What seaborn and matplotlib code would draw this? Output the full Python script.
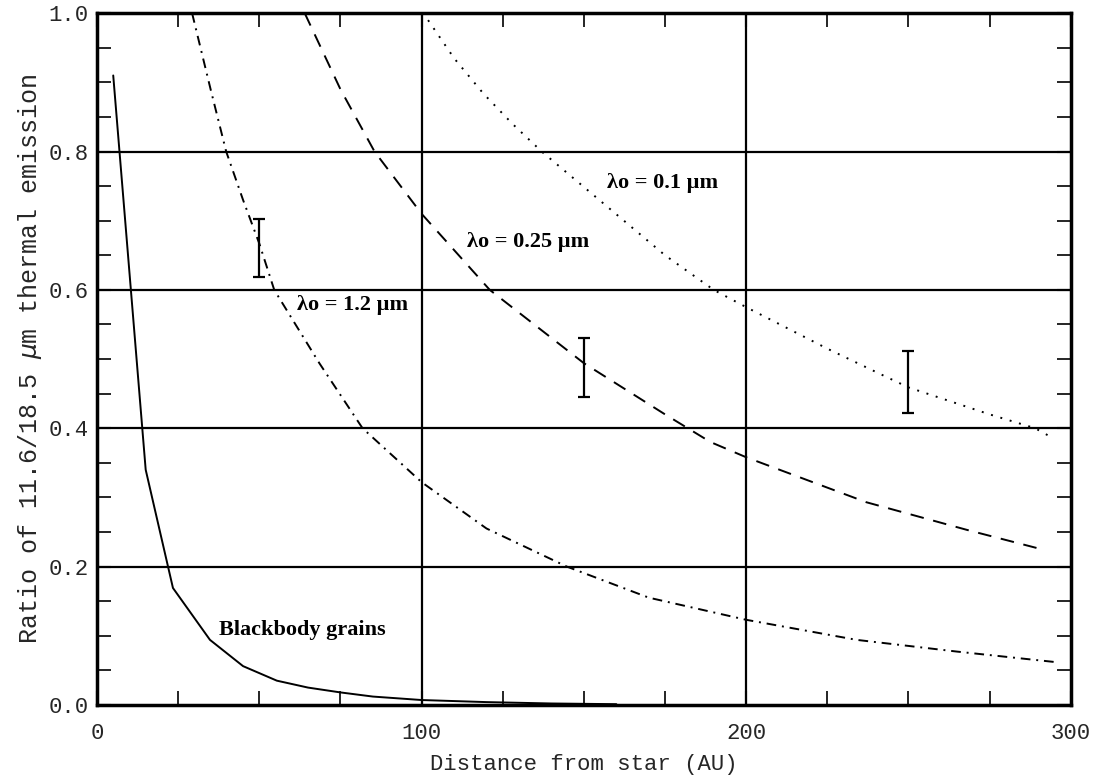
import numpy as np
import pandas as pd
import matplotlib
matplotlib.use("Agg")
import matplotlib.pyplot as plt
import seaborn as sns

# -------- data --------
# blackbody grains (solid)
bb_x = [5, 15, 23.4, 34.8, 45, 55.4, 65, 75, 85, 100, 120, 140, 160]
bb_y = [0.91, 0.34, 0.169, 0.094, 0.056, 0.035, 0.025, 0.018, 0.012, 0.007, 0.004, 0.002, 0.001]

# lambda_o = 1.2 um (dash-dot)
l12_x = [29.3, 35, 39.8, 45, 50, 54.6, 68.5, 81.8, 100, 120, 144.7, 170, 200, 234, 265, 295]
l12_y = [1.0, 0.89, 0.80, 0.73, 0.667, 0.60, 0.494, 0.40, 0.322, 0.255, 0.20, 0.155, 0.123, 0.094, 0.077, 0.062]

# lambda_o = 0.25 um (dashed)
l025_x = [64, 75, 85.5, 100, 121, 150, 175, 189, 200, 237, 268, 291]
l025_y = [1.0, 0.89, 0.80, 0.71, 0.60, 0.494, 0.42, 0.38, 0.358, 0.293, 0.253, 0.225]

# lambda_o = 0.1 um (dotted)
l01_x = [102, 110, 119, 128, 137, 155, 175, 190, 200, 225, 241, 250, 275, 289, 294]
l01_y = [0.99, 0.935, 0.884, 0.84, 0.80, 0.729, 0.65, 0.60, 0.575, 0.515, 0.479, 0.459, 0.42, 0.40, 0.387]

# measured ratios with error bars
obs_x = [50, 150, 250]
obs_y = [0.66, 0.488, 0.4665]
obs_err = [0.042, 0.043, 0.045]

x_ticks = [0, 100, 200, 300]
y_ticks = [0.0, 0.2, 0.4, 0.6, 0.8, 1.0]

# -------- style --------
sns.set_theme(style="white")
plt.rcParams["font.family"] = ["Liberation Mono", "DejaVu Sans Mono"]
plt.rcParams["mathtext.fontset"] = "dejavusans"

fig = plt.figure(figsize=(10.96, 7.78), dpi=100)
ax = fig.add_axes([0.0885, 0.094, 0.8885, 0.889])

curves = [
    (bb_x, bb_y, "-"),
    (l12_x, l12_y, (0, (5, 3, 1, 3))),
    (l025_x, l025_y, (0, (7, 5))),
    (l01_x, l01_y, (0, (1, 4))),
]
for cx, cy, ls in curves:
    df = pd.DataFrame({"x": cx, "y": cy})
    sns.lineplot(data=df, x="x", y="y", ax=ax, color="black", lw=1.4,
                 linestyle=ls, sort=False, estimator=None, legend=False)

ax.errorbar(obs_x, obs_y, yerr=obs_err, fmt="none", ecolor="black",
            elinewidth=1.6, capsize=4, capthick=1.6)

# grid lines at major ticks
for gx in [100, 200]:
    ax.axvline(gx, color="black", lw=1.6, zorder=0)
for gy in [0.2, 0.4, 0.6, 0.8]:
    ax.axhline(gy, color="black", lw=1.6, zorder=0)

ax.set_xlim(0, 300)
ax.set_ylim(0, 1.0)
ax.set_xticks(x_ticks)
ax.set_yticks(y_ticks)
ax.set_xticklabels([str(t) for t in x_ticks])
ax.set_yticklabels([f"{t:.1f}" for t in y_ticks])
ax.set_xticks(np.arange(0, 301, 25), minor=True)
ax.set_yticks(np.arange(0, 1.01, 0.05), minor=True)
ax.tick_params(which="both", direction="in", top=True, right=True,
               bottom=True, left=True, color="black", labelsize=16)
ax.tick_params(which="major", length=10, width=1.5)
ax.tick_params(which="minor", length=10, width=1.2)
ax.tick_params(axis="x", which="major", pad=13)
ax.tick_params(axis="y", which="major", pad=6)

for sp in ax.spines.values():
    sp.set_color("black")
    sp.set_linewidth(2.5)

ax.set_xlabel("Distance from star (AU)", fontsize=16, labelpad=7)
ax.set_ylabel(r"Ratio of 11.6/18.5 $\mu$m thermal emission", fontsize=18, labelpad=3)

lab_font = dict(family=["Liberation Serif", "DejaVu Serif"], fontweight="bold",
                fontsize=16, color="black", va="center", ha="left")
ax.text(157, 0.755, "λo = 0.1 µm", **lab_font)
ax.text(114, 0.669, "λo = 0.25 µm", **lab_font)
ax.text(61.7, 0.578, "λo = 1.2 µm", **lab_font)
ax.text(37.6, 0.108, "Blackbody grains", **lab_font)

fig.savefig("out.png", dpi=100)
